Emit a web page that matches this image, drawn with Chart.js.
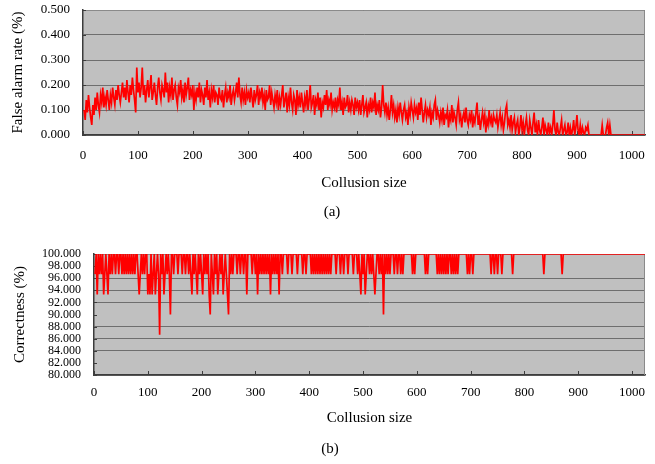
<!DOCTYPE html>
<html>
<head>
<meta charset="utf-8">
<script src="https://cdn.jsdelivr.net/npm/chart.js@4.4.1/dist/chart.umd.min.js"></script>
<style>
html,body{margin:0;padding:0;background:#fff;}
#wrap{position:relative;width:655px;height:464px;overflow:hidden;font-family:"Liberation Serif","Times New Roman",serif;}
canvas{position:absolute;left:0;}
#chartA{top:0;}
#chartB{top:230px;}
.cap{position:absolute;width:40px;text-align:center;font-size:15px;line-height:18px;color:#000;}
</style>
</head>
<body>
<div id="wrap">
  <canvas id="chartA" width="655" height="230"></canvas>
  <canvas id="chartB" width="655" height="234"></canvas>
  <div class="cap" style="left:312px;top:202px;">(a)</div>
  <div class="cap" style="left:310px;top:439px;">(b)</div>
</div>
<script>
// ---------- data ----------
const xTickValues = [0,100,200,300,400,500,600,700,800,900,1000];
const falseAlarmTicks = [0,0.1,0.2,0.3,0.4,0.5];
const correctnessTicks = [80,82,84,86,88,90,92,94,96,98,100];

// collusion sizes 2,4,...,1024 (x positions of the samples)
const collusionSizes = Array.from({length: 512}, (_, i) => 2 * (i + 1));

// (a) false alarm rate (%)
const falseAlarmRate = [
0.10,0.06,0.14,0.09,0.16,0.11,0.07,0.04,0.12,0.08,0.15,0.10,0.17,0.12,0.09,0.16,0.13,0.19,0.11,0.15,0.12,0.18,0.14,0.10,0.16,
0.13,0.19,0.15,0.12,0.18,0.14,0.20,0.16,0.13,0.17,0.21,0.15,0.19,0.14,0.22,0.17,0.13,0.20,0.16,0.23,0.18,0.14,0.09,0.27,0.17,
0.21,0.15,0.19,0.27,0.16,0.20,0.13,0.18,0.22,0.15,0.19,0.24,0.14,0.17,0.21,0.16,0.12,0.19,0.23,0.17,0.14,0.20,0.18,0.15,0.25,
0.17,0.21,0.13,0.19,0.16,0.23,0.14,0.18,0.20,0.15,0.12,0.19,0.17,0.22,0.15,0.18,0.13,0.21,0.16,0.19,0.23,0.14,0.18,0.16,0.20,
0.10,0.17,0.14,0.19,0.15,0.21,0.13,0.18,0.16,0.12,0.19,0.15,0.22,0.14,0.17,0.11,0.18,0.15,0.20,0.13,0.17,0.16,0.12,0.19,0.15,
0.14,0.18,0.11,0.16,0.19,0.13,0.17,0.15,0.20,0.12,0.16,0.18,0.14,0.17,0.21,0.15,0.23,0.16,0.13,0.19,0.14,0.17,0.12,0.18,0.15,
0.17,0.13,0.19,0.15,0.11,0.18,0.14,0.16,0.20,0.12,0.17,0.15,0.19,0.13,0.16,0.10,0.18,0.14,0.15,0.20,0.12,0.17,0.14,0.11,0.16,
0.13,0.18,0.10,0.15,0.12,0.16,0.20,0.11,0.14,0.17,0.09,0.15,0.12,0.19,0.13,0.10,0.16,0.14,0.08,0.18,0.12,0.15,0.11,0.17,0.13,
0.09,0.15,0.12,0.18,0.10,0.14,0.20,0.11,0.13,0.16,0.08,0.14,0.12,0.17,0.10,0.15,0.07,0.13,0.11,0.16,0.12,0.18,0.10,0.14,0.12,
0.17,0.10,0.13,0.11,0.15,0.09,0.14,0.12,0.19,0.10,0.13,0.08,0.15,0.11,0.12,0.16,0.09,0.13,0.10,0.14,0.12,0.08,0.15,0.11,0.13,
0.10,0.14,0.08,0.12,0.16,0.09,0.11,0.13,0.07,0.12,0.10,0.15,0.09,0.13,0.11,0.17,0.08,0.12,0.10,0.14,0.07,0.11,0.20,0.12,0.09,
0.13,0.08,0.11,0.06,0.10,0.16,0.09,0.12,0.07,0.10,0.05,0.11,0.08,0.13,0.09,0.06,0.10,0.12,0.07,0.09,0.04,0.11,0.08,0.13,0.10,
0.07,0.12,0.09,0.11,0.06,0.13,0.08,0.15,0.10,0.05,0.09,0.12,0.07,0.10,0.08,0.11,0.04,0.09,0.07,0.12,0.14,0.06,0.10,0.08,0.05,
0.09,0.06,0.11,0.04,0.08,0.07,0.10,0.03,0.08,0.06,0.12,0.05,0.09,0.07,0.04,0.10,0.13,0.06,0.08,0.03,0.07,0.09,0.05,0.11,0.06,
0.04,0.08,0.06,0.10,0.03,0.07,0.05,0.09,0.13,0.04,0.07,0.02,0.06,0.09,0.05,0.08,0.01,0.06,0.04,0.10,0.05,0.07,0.03,0.08,0.06,
0.05,0.08,0.03,0.06,0.09,0.04,0.07,0.02,0.05,0.10,0.12,0.04,0.06,0.03,0.08,0.02,0.05,0.07,0.01,0.04,0.06,0.00,0.03,0.08,0.02,
0.05,0.00,0.04,0.07,0.02,0.00,0.06,0.03,0.00,0.05,0.09,0.01,0.04,0.00,0.06,0.02,0.00,0.03,0.07,0.00,0.04,0.02,0.00,0.05,0.01,
0.03,0.00,0.04,0.10,0.02,0.00,0.05,0.01,0.00,0.03,0.06,0.00,0.02,0.04,0.00,0.01,0.05,0.00,0.03,0.00,0.02,0.06,0.00,0.03,0.08,
0.02,0.00,0.04,0.00,0.03,0.01,0.00,0.03,0.02,0.04,0.00,0.00,0.00,0.00,0.00,0.00,0.00,0.00,0.00,0.00,0.00,0.00,0.04,0.00,0.00,
0.00,0.03,0.05,0.00,0.04,0.00,0.00,0.00,0.00,0.00,0.00,0.00,0.00,0.00,0.00,0.00,0.00,0.00,0.00,0.00,0.00,0.00,0.00,0.00,0.00,
0.00,0.00,0.00,0.00,0.00,0.00,0.00,0.00,0.00,0.00,0.00,0.00
];

// (b) correctness (%)
const correctness = [
96.67,100,93.33,100,96.67, 100,96.67,100,93.33,96.67, 100,96.67,93.33,100,96.67, 100,96.67,100,100,96.67, 100,100,96.67,100,100,
96.67,100,96.67,100,96.67, 100,96.67,100,96.67,100, 96.67,100,96.67,100,100, 96.67,93.33,96.67,100,96.67, 100,96.67,100,100,93.33,
96.67,93.33,100,93.33,96.67, 100,93.33,96.67,100,96.67, 86.67,100,96.67,100,93.33, 96.67,100,96.67,100,96.67, 90,100,100,96.67,100,
100,100,96.67,100,100, 100,96.67,100,100,96.67, 100,100,96.67,100,96.67, 93.33,100,96.67,100,96.67, 93.33,100,96.67,100,96.67,
93.33,100,96.67,100,96.67, 100,93.33,90,100,96.67, 93.33,100,96.67,100,93.33, 96.67,100,96.67,100,93.33, 96.67,100,96.67,93.33,90,
100,96.67,100,96.67,100, 100,100,96.67,100,100, 96.67,100,100,96.67,100, 100,93.33,100,100,100, 100,96.67,100,100,96.67,
100,93.33,100,96.67,100, 96.67,100,96.67,100,96.67, 100,96.67,100,93.33,100, 96.67,100,96.67,100,96.67, 100,93.33,100,100,96.67,
100,100,100,100,96.67, 100,100,100,96.67,100, 100,100,100,96.67,100, 100,100,100,96.67,100, 100,96.67,100,100,100,
100,96.67,100,96.67,100, 96.67,100,96.67,100,96.67, 100,96.67,100,96.67,100, 96.67,100,96.67,100,96.67, 100,100,100,100,96.67,
100,100,100,96.67,100, 100,96.67,100,100,100, 96.67,100,100,100,100, 96.67,100,100,100,96.67, 100,96.67,93.33,100,96.67,
100,93.33,96.67,100,100, 96.67,100,96.67,100,96.67, 93.33,96.67,100,100,96.67, 100,96.67,100,90,100, 96.67,100,96.67,100,96.67,
100,100,100,96.67,100, 100,96.67,100,100,96.67, 100,96.67,100,100,100, 100,100,100,100,100, 96.67,100,96.67,100,100,
100,100,100,100,100, 100,100,96.67,100,96.67, 100,100,100,100,100, 100,100,100,96.67,100, 96.67,100,96.67,100,96.67,
100,96.67,100,96.67,100, 100,96.67,100,96.67,100, 96.67,100,96.67,100,100, 100,100,100,100,100, 100,96.67,100,96.67,100,
100,96.67,100,100,100, 100,100,100,100,100, 100,100,100,100,100, 100,100,100,96.67,100, 100,96.67,100,100,96.67,
100,100,100,96.67,100, 100,100,100,100,100, 100,100,100,96.67,100, 100,100,100,100,100, 100,100,100,100,100,
100,100,100,100,100, 100,100,100,100,100, 100,100,100,100,100, 100,100,96.67,100,100, 100,100,100,100,100,
100,100,100,100,100, 100,100,100,100,96.67, 100,100,100,100,100, 100,100,100,100,100, 100,100,100,100,100,
100,100,100,100,100, 100,100,100,100,100, 100,100,100,100,100, 100,100,100,100,100, 100,100,100,100,100,
100,100,100,100,100, 100,100,100,100,100, 100,100,100,100,100, 100,100,100,100,100, 100,100,100,100,100,
100,100,100,100,100, 100,100,100,100,100, 100,100
];

// gridlines that are not visible in the picture (b)
const hiddenCorrectnessGrid = [98, 90, 82];

// ---------- styling ----------
const FONT = '"Liberation Serif", "Times New Roman", serif';
const PLOT_BG = '#c0c0c0';
const GRID = '#6e6e6e';
const AXIS = '#3c3c3c';
const FRAME = '#8a8a8a';

const plotFrame = {
  id: 'plotFrame',
  beforeDraw(chart) {
    const {ctx, chartArea: a} = chart;
    ctx.save();
    ctx.fillStyle = PLOT_BG;
    ctx.fillRect(a.left, a.top, a.right - a.left, a.bottom - a.top);
    ctx.restore();
  },
  beforeDatasetsDraw(chart) {
    const {ctx, chartArea: a, scales} = chart;
    ctx.save();
    ctx.lineWidth = 1;
    ctx.strokeStyle = FRAME;
    ctx.beginPath();
    ctx.moveTo(a.left, a.top + 0.5);
    ctx.lineTo(a.right - 0.5, a.top + 0.5);
    ctx.lineTo(a.right - 0.5, a.bottom);
    ctx.stroke();
    ctx.strokeStyle = AXIS;
    scales.x.ticks.forEach(t => {
      const px = Math.round(scales.x.getPixelForValue(t.value)) + 0.5;
      ctx.beginPath();
      ctx.moveTo(px, a.bottom);
      ctx.lineTo(px, a.bottom - 4);
      ctx.stroke();
    });
    scales.y.ticks.forEach(t => {
      const py = Math.round(scales.y.getPixelForValue(t.value)) + 0.5;
      ctx.beginPath();
      ctx.moveTo(a.left, py);
      ctx.lineTo(a.left + 3, py);
      ctx.stroke();
    });
    ctx.restore();
  }
};

function makeChart(canvasId, values, yTicks, yMin, yMax, yTitle, geom) {
  return new Chart(document.getElementById(canvasId), {
    type: 'line',
    data: {
      labels: collusionSizes,
      datasets: [{
        data: values,
        borderColor: '#ff0000',
        borderWidth: 1.7,
        pointRadius: 0,
        tension: 0,
        fill: false
      }]
    },
    options: {
      responsive: false,
      animation: false,
      devicePixelRatio: 1,
      layout: { padding: { left: 0, right: 10, top: geom.top, bottom: 0 } },
      plugins: { legend: { display: false }, tooltip: { enabled: false } },
      scales: {
        x: {
          type: 'linear',
          min: 0,
          max: 1024,
          afterBuildTicks: s => { s.ticks = xTickValues.map(v => ({ value: v })); },
          afterFit: s => { s.height = geom.xHeight; s.paddingLeft = 0; s.paddingRight = 0; },
          grid: { display: false, drawTicks: false },
          border: { display: true, color: AXIS, width: 1.5 },
          ticks: { padding: geom.xTickPad, color: '#000', maxRotation: 0, autoSkip: false,
                   font: { family: FONT, size: 13 }, callback: v => String(v) },
          title: { display: true, text: 'Collusion size', color: '#000',
                   font: { family: FONT, size: 15 }, padding: { top: 0, bottom: geom.xTitlePad } }
        },
        y: {
          min: yMin,
          max: yMax,
          afterBuildTicks: s => { s.ticks = yTicks.map(v => ({ value: v })); },
          afterFit: s => { s.width = geom.yWidth; s.paddingTop = 0; s.paddingBottom = 0; },
          grid: {
            drawTicks: false,
            lineWidth: 1,
            color: c => (geom.hidden && c.tick && geom.hidden.includes(c.tick.value)) ? 'rgba(0,0,0,0)' : GRID
          },
          border: { display: true, color: AXIS, width: 1.5 },
          ticks: { padding: 13, color: '#000', autoSkip: false,
                   font: { family: FONT, size: geom.yFont }, callback: v => Number(v).toFixed(3) },
          title: { display: true, text: yTitle, color: '#000',
                   font: { family: FONT, size: 15 }, padding: { top: geom.yTitlePad, bottom: 0 } }
        }
      }
    },
    plugins: [plotFrame]
  });
}

makeChart('chartA', falseAlarmRate, falseAlarmTicks, 0, 0.5, 'False alarm rate (%)',
  { top: 10, xHeight: 95, xTickPad: 13, xTitlePad: 38, yWidth: 83, yFont: 13, yTitlePad: 9 });

makeChart('chartB', correctness, correctnessTicks, 80, 100, 'Correctness (%)',
  { top: 24, xHeight: 89, xTickPad: 10, xTitlePad: 37, yWidth: 94, yFont: 12, yTitlePad: 11,
    hidden: hiddenCorrectnessGrid });
</script>
</body>
</html>
